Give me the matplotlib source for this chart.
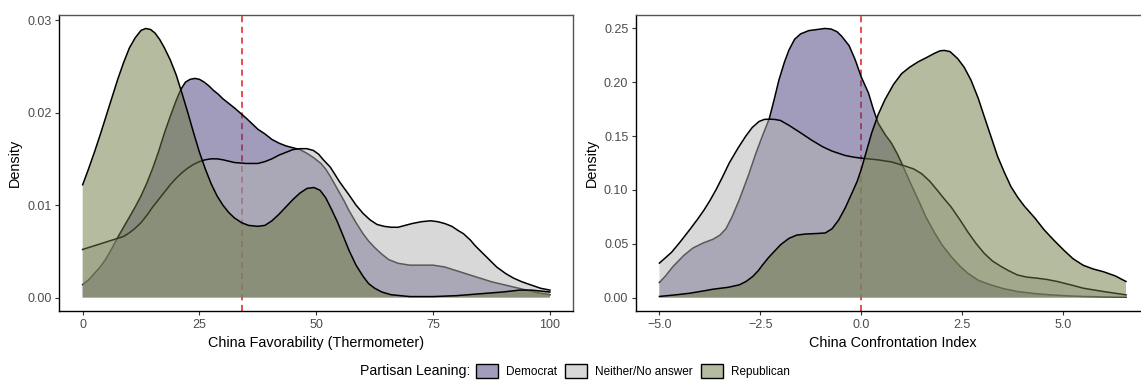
import numpy as np
import matplotlib
matplotlib.use("Agg")
import matplotlib.pyplot as plt
from matplotlib.patches import Patch
from matplotlib.colors import to_rgba

plt.rcParams['font.family'] = ['Liberation Sans', 'DejaVu Sans']

# ---------------- data ----------------
groups = ["Democrat", "Neither/No answer", "Republican"]

# Left panel: China Favorability (Thermometer)
therm_dem_x = [0, 1.25, 2.5, 3.75, 5, 6.25, 7.5, 8.75, 10, 11.25, 12.5, 13.75, 15, 16.25, 17.5,
               18.75, 20, 21, 22, 23, 24, 25, 26, 27, 28, 29, 30, 32.5, 35, 37.5, 39, 40.5, 42,
               43.5, 45, 46.5, 48, 49.5, 51, 52, 53, 54, 55, 56, 57, 58.5, 60, 61.2, 62.5, 64,
               65.5, 67.5, 70, 72.5, 75, 77.5, 80, 82.5, 85, 87.5, 90, 92.5, 95, 97.5, 100]
therm_dem_y = [0.0014, 0.0019, 0.0026, 0.0033, 0.0042, 0.0053, 0.0065, 0.0076, 0.0087, 0.0098,
               0.0110, 0.0124, 0.0140, 0.0158, 0.0178, 0.0196, 0.0213, 0.0225, 0.0233, 0.0236,
               0.0237, 0.0236, 0.0233, 0.0229, 0.0224, 0.0220, 0.0215, 0.0205, 0.0194, 0.0182,
               0.0177, 0.0171, 0.0167, 0.0164, 0.0162, 0.0160, 0.0156, 0.0151, 0.0145, 0.0139,
               0.0131, 0.0122, 0.0113, 0.0104, 0.0094, 0.0081, 0.0069, 0.0061, 0.0054, 0.0047,
               0.0041, 0.0037, 0.0035, 0.0035, 0.0035, 0.0033, 0.0029, 0.0025, 0.0021, 0.0017,
               0.0014, 0.0011, 0.0008, 0.0005, 0.0003]

therm_nei_x = [0, 2.5, 5, 7.5, 8.75, 10, 11.25, 12.5, 13.75, 15, 16.25, 17.5, 18.75, 20, 21.25,
               22.5, 23.75, 25, 26.25, 27.5, 28.75, 30, 32.5, 35, 37.5, 39, 40.5, 42, 43.5, 45,
               46.5, 48, 49.4, 50.5, 51.5, 53, 54, 55, 57, 58.5, 60, 61.5, 63, 64.5, 66, 67.5,
               69, 70.5, 72.5, 74.5, 76, 77.5, 79, 80.5, 81.5, 83, 84, 85, 86, 87, 88.6, 90.5,
               92.2, 94, 95.7, 98, 100]
therm_nei_y = [0.0052, 0.0056, 0.0060, 0.0064, 0.0066, 0.0070, 0.0075, 0.0081, 0.0089, 0.0098,
               0.0106, 0.0114, 0.0122, 0.0129, 0.0135, 0.0140, 0.0144, 0.0147, 0.0149, 0.0150,
               0.0150, 0.0149, 0.0146, 0.0145, 0.0145, 0.0147, 0.0150, 0.0154, 0.0157, 0.0160,
               0.0161, 0.0161, 0.0159, 0.0155, 0.0149, 0.0141, 0.0133, 0.0125, 0.0111, 0.0100,
               0.0091, 0.0084, 0.0079, 0.0077, 0.0076, 0.0076, 0.0078, 0.0080, 0.0082, 0.0083,
               0.0082, 0.0080, 0.0077, 0.0072, 0.0069, 0.0062, 0.0056, 0.0051, 0.0046, 0.0041,
               0.0033, 0.0026, 0.0021, 0.0017, 0.0014, 0.0010, 0.0008]

therm_rep_x = [0, 1.25, 2.5, 3.75, 5, 6.25, 7.5, 8.75, 10, 11.25, 12.5, 13.5, 14.5, 15.5, 16.5,
               17.5, 18.75, 20, 21.25, 22.5, 23.75, 25, 26.25, 27.5, 28.75, 30, 31.25, 32.5, 34,
               35.5, 37.5, 39, 40.5, 42, 43.5, 45, 46.5, 48, 49.5, 50.8, 52, 53.2, 54.5, 55.8,
               57, 58.5, 60, 61.2, 62.5, 64, 66, 70, 75, 80, 85, 90, 93.5, 96, 100]
therm_rep_y = [0.0122, 0.0139, 0.0157, 0.0176, 0.0196, 0.0216, 0.0236, 0.0254, 0.0270, 0.0281,
               0.0289, 0.0291, 0.0290, 0.0286, 0.0279, 0.0270, 0.0257, 0.0241, 0.0221, 0.0200,
               0.0178, 0.0157, 0.0139, 0.0123, 0.0110, 0.0100, 0.0092, 0.0086, 0.0081, 0.0078,
               0.0077, 0.0078, 0.0083, 0.0090, 0.0098, 0.0106, 0.0113, 0.0118, 0.0119, 0.0116,
               0.0108, 0.0096, 0.0082, 0.0066, 0.0051, 0.0035, 0.0023, 0.0015, 0.0010, 0.0006,
               0.0003, 0.0001, 0.0001, 0.0002, 0.0004, 0.0006, 0.0008, 0.0008, 0.0006]
therm_cut = 34.0

# Right panel: China Confrontation Index
conf_dem_x = [-5, -4.85, -4.66, -4.4, -4.17, -3.9, -3.68, -3.5, -3.35, -3.2, -3.02, -2.8, -2.61,
              -2.45, -2.28, -2.15, -2.04, -1.9, -1.79, -1.65, -1.5, -1.3, -1.1, -0.9, -0.75,
              -0.6, -0.48, -0.3, -0.15, 0, 0.18, 0.3, 0.42, 0.6, 0.75, 0.9, 1.0, 1.2, 1.41, 1.6,
              1.82, 2.0, 2.23, 2.45, 2.64, 2.9, 3.21, 3.5, 3.87, 4.3, 4.69, 5.1, 5.5, 6.0, 6.56]
conf_dem_y = [0.014, 0.020, 0.029, 0.039, 0.046, 0.051, 0.054, 0.058, 0.064, 0.075, 0.091, 0.113,
              0.134, 0.150, 0.166, 0.185, 0.202, 0.219, 0.230, 0.240, 0.245, 0.248, 0.249, 0.250,
              0.2495, 0.247, 0.2426, 0.234, 0.221, 0.205, 0.190, 0.175, 0.162, 0.151, 0.1434,
              0.133, 0.125, 0.108, 0.091, 0.075, 0.060, 0.049, 0.038, 0.029, 0.0226, 0.016,
              0.0118, 0.0085, 0.0056, 0.0037, 0.0025, 0.0016, 0.001, 0.0006, 0.0003]

conf_nei_x = [-5, -4.85, -4.7, -4.5, -4.25, -4.05, -3.9, -3.75, -3.6, -3.45, -3.27, -3.05, -2.86,
              -2.7, -2.53, -2.4, -2.28, -2.15, -2.0, -1.79, -1.5, -1.22, -0.95, -0.72, -0.4,
              -0.2, 0, 0.4, 0.75, 1.1, 1.3, 1.5, 1.7, 1.9, 2.05, 2.23, 2.45, 2.64, 2.85, 3.05,
              3.25, 3.46, 3.65, 3.87, 4.1, 4.36, 4.6, 4.86, 5.2, 5.5, 6.0, 6.56]
conf_nei_y = [0.032, 0.037, 0.042, 0.051, 0.063, 0.073, 0.081, 0.090, 0.100, 0.111, 0.125, 0.139,
              0.150, 0.158, 0.1636, 0.1655, 0.1657, 0.1655, 0.1645, 0.160, 0.153, 0.146, 0.140,
              0.136, 0.132, 0.1305, 0.1295, 0.128, 0.126, 0.122, 0.1195, 0.115, 0.108, 0.099,
              0.092, 0.084, 0.072, 0.061, 0.050, 0.041, 0.034, 0.029, 0.025, 0.021, 0.019, 0.018,
              0.0168, 0.0149, 0.0117, 0.0087, 0.0056, 0.0025]

conf_rep_x = [-5, -4.6, -4.25, -3.9, -3.68, -3.3, -3.02, -2.85, -2.69, -2.55, -2.45, -2.3, -2.2,
              -2.0, -1.79, -1.6, -1.38, -1.1, -0.89, -0.72, -0.56, -0.4, -0.23, -0.1, 0, 0.13,
              0.26, 0.42, 0.59, 0.8, 1.0, 1.2, 1.41, 1.62, 1.82, 1.95, 2.06, 2.2, 2.39, 2.55,
              2.72, 2.9, 3.05, 3.22, 3.38, 3.55, 3.71, 3.88, 4.04, 4.3, 4.53, 4.78, 5.02, 5.25,
              5.5, 5.75, 6.0, 6.3, 6.56]
conf_rep_y = [0.001, 0.0025, 0.004, 0.0062, 0.0077, 0.0095, 0.0118, 0.015, 0.0195, 0.025, 0.030,
              0.037, 0.041, 0.049, 0.055, 0.058, 0.059, 0.0595, 0.060, 0.064, 0.072, 0.083,
              0.097, 0.108, 0.119, 0.136, 0.153, 0.170, 0.184, 0.198, 0.208, 0.214, 0.219,
              0.223, 0.227, 0.2292, 0.2296, 0.2285, 0.222, 0.214, 0.202, 0.185, 0.168, 0.149,
              0.131, 0.116, 0.103, 0.093, 0.085, 0.074, 0.063, 0.053, 0.044, 0.036, 0.030,
              0.0265, 0.024, 0.020, 0.0149]
conf_cut = 0.0

# ---------------- styling ----------------
colors = ["#473b7b", "#b3b3b3", "#6b793f"]
alpha = 0.5
W, H = 1141, 381
fig = plt.figure(figsize=(W / 100, H / 100), dpi=100)

def px_axes(x0, x1, top, bottom):
    return fig.add_axes([x0 / W, 1 - bottom / H, (x1 - x0) / W, (bottom - top) / H])

axL = px_axes(59.3, 573.3, 15, 311)
axR = px_axes(636, 1149.4, 15, 311)

def draw(ax, series, cut, xlim, ylim, xticks, xticklabels, yticks, xlabel):
    ax.axvline(cut, color="#e41a1c", linestyle=(0, (4, 3)), lw=1.1, zorder=1)
    for (xs, ys), c in zip(series, colors):
        xs = np.asarray(xs); ys = np.asarray(ys)
        ax.fill_between(xs, 0, ys, facecolor=c, alpha=alpha, linewidth=0, zorder=2)
        ax.plot(xs, ys, color="black", lw=1.1, zorder=2, solid_joinstyle="round")
    ax.set_xlim(*xlim)
    ax.set_ylim(*ylim)
    ax.set_xticks(xticks)
    ax.set_xticklabels(xticklabels)
    ax.set_yticks(yticks)
    ax.set_yticklabels([f"{v:.2f}" for v in yticks])
    ax.tick_params(axis="both", colors="#333333", labelcolor="#4d4d4d", labelsize=9,
                   length=3, width=0.8, pad=2.5)
    for s in ["left", "bottom"]:
        ax.spines[s].set_color("black")
        ax.spines[s].set_linewidth(1.0)
    for s in ["top", "right"]:
        ax.spines[s].set_color("#555555")
        ax.spines[s].set_linewidth(1.0)
    ax.set_xlabel(xlabel, fontsize=10.4, labelpad=2)
    ax.set_ylabel("Density", fontsize=10.4, labelpad=4)

draw(axL,
     [(therm_dem_x, therm_dem_y), (therm_nei_x, therm_nei_y), (therm_rep_x, therm_rep_y)],
     therm_cut, (-5, 105), (-0.00146, 0.03056),
     [0, 25, 50, 75, 100], ["0", "25", "50", "75", "100"],
     [0.0, 0.01, 0.02, 0.03], "China Favorability (Thermometer)")

draw(axR,
     [(conf_dem_x, conf_dem_y), (conf_nei_x, conf_nei_y), (conf_rep_x, conf_rep_y)],
     conf_cut, (-5.58, 7.14), (-0.0125, 0.2625),
     [-5, -2.5, 0, 2.5, 5], ["\u22125.0", "\u22122.5", "0.0", "2.5", "5.0"],
     [0.0, 0.05, 0.10, 0.15, 0.20, 0.25], "China Confrontation Index")
axL.xaxis.set_label_coords(0.5, -0.085)
axR.xaxis.set_label_coords(0.5, -0.085)

# Legend
fig.text(360 / W, 1 - 371 / H, "Partisan Leaning:", fontsize=10.2, va="center", ha="left")
handles = [Patch(facecolor=to_rgba(c, alpha), edgecolor="black", linewidth=1.0) for c in colors]
leg = fig.legend(handles, groups, loc="center left", bbox_to_anchor=(476 / W, 1 - 371 / H),
                 ncol=3, frameon=False, fontsize=8.5, handlelength=1.86, handleheight=1.45,
                 handletextpad=0.68, columnspacing=0.68, borderpad=0, borderaxespad=0)

fig.savefig("out.png", dpi=100)
